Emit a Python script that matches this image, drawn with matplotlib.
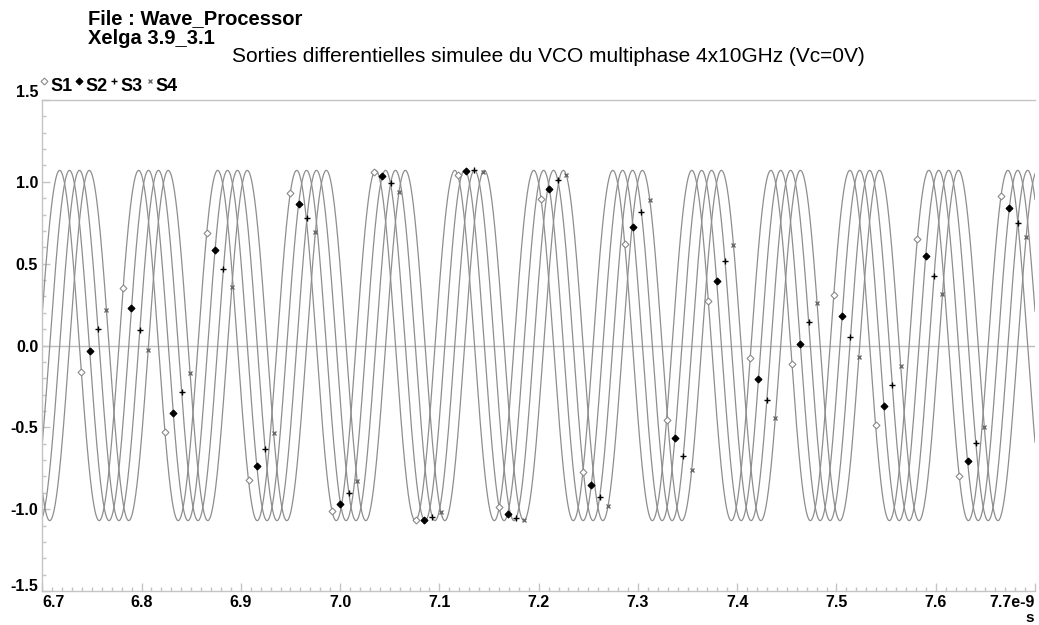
import numpy as np
import matplotlib
matplotlib.use("Agg")
import matplotlib.pyplot as plt
from matplotlib.ticker import FixedLocator, MultipleLocator

plt.rcParams['font.family'] = ['Liberation Sans', 'DejaVu Sans']

# wave data (time in ns)
t_start, t_stop = 6.7, 7.7
period_ns = 0.0796          # ~12.5 GHz
ampl = 1.07
series = ['S1', 'S2', 'S3', 'S4']
first_peak_ns = [6.7175, 6.7274, 6.7374, 6.7473]
marker_t0 = [6.7393, 6.7477, 6.7561, 6.7646]
marker_step = 0.04211
n_markers = [23, 23, 23, 23]

xticks = [6.7, 6.8, 6.9, 7.0, 7.1, 7.2, 7.3, 7.4, 7.5, 7.6, 7.7]
xlabels = ['6.7', '6.8', '6.9', '7.0', '7.1', '7.2', '7.3', '7.4', '7.5', '7.6', '7.7e-9']
yticks = [-1.5, -1.0, -0.5, 0.0, 0.5, 1.0, 1.5]
ylabels = ['-1.5', '-1.0', '-0.5', '0.0', '0.5', '1.0', '1.5']

mstyle = {
    'S1': dict(marker='D', ms=3.5, mfc='white', mec='#8a8a8a', mew=0.8),
    'S2': dict(marker='D', ms=3.5, mfc='black', mec='black', mew=0.8),
    'S3': dict(marker='+', ms=5, mec='black', mew=1.0),
    'S4': dict(marker='x', ms=3.5, mec='#6a6a6a', mew=1.0),
}

W, H = 1039, 625
fig = plt.figure(figsize=(W / 100, H / 100), dpi=100)
ax = fig.add_axes([42.3 / W, 1 - 591 / H, (1035 - 42.3) / W, (591 - 100) / H])

t = np.linspace(t_start, t_stop, 4000)

def wave(tt, tp):
    return ampl * np.cos(2 * np.pi * (tt - tp) / period_ns)

for name, tp, m0, nm in zip(series, first_peak_ns, marker_t0, n_markers):
    ax.plot(t, wave(t, tp), color='#8e8e8e', lw=0.9)
    tm = m0 + marker_step * np.arange(nm)
    ax.plot(tm, wave(tm, tp), ls='none', zorder=3, **mstyle[name])

ax.axhline(0, color='#bcbcbc', lw=1.0, zorder=0)

ax.set_xlim(t_start, t_stop)
ax.set_ylim(-1.5, 1.5)

for s in ['left', 'bottom', 'top']:
    ax.spines[s].set_color('#c4c4c4')
    ax.spines[s].set_linewidth(1.0)
ax.spines['right'].set_visible(False)

ax.xaxis.set_major_locator(FixedLocator(xticks))
ax.xaxis.set_minor_locator(MultipleLocator(0.01))
ax.yaxis.set_major_locator(FixedLocator(yticks))
ax.yaxis.set_minor_locator(MultipleLocator(0.1))
ax.set_xticklabels(xlabels, fontsize=11.5, fontweight='bold')
ax.set_yticklabels(ylabels, fontsize=11.5, fontweight='bold')
ax.tick_params(which='both', direction='in', color='#c4c4c4', width=1.0)
ax.tick_params(which='major', length=6)
ax.tick_params(which='minor', length=3)
ax.tick_params(axis='x', pad=3)
ax.tick_params(axis='y', pad=3)

xl = ax.get_xticklabels()
xl[0].set_ha('left')
xl[-1].set_ha('right')
yl = ax.get_yticklabels()
yl[0].set_va('baseline')
yl[-1].set_va('bottom')

# unit under the last x label
fig.text(1030 / W, 0.0, 's', fontsize=11, fontweight='bold', ha='center', va='bottom')

# titles
fig.text(88 / W, 1 - 24 / H, 'File : Wave_Processor', fontsize=14.5, fontweight='bold', va='baseline')
fig.text(88 / W, 1 - 44 / H, 'Xelga 3.9_3.1', fontsize=14.5, fontweight='bold', va='baseline')
fig.text(232 / W, 1 - 62 / H, 'Sorties differentielles simulee du VCO multiphase 4x10GHz (Vc=0V)',
         fontsize=15, va='baseline')

# legend row
leg_mx = [44, 79, 114, 150]
leg_tx = [50.7, 85, 120.7, 155.7]
for name, mx, tx in zip(series, leg_mx, leg_tx):
    ax.plot([mx / W], [1 - 81 / H], transform=fig.transFigure, clip_on=False,
            ls='none', **mstyle[name])
    fig.text(tx / W, 1 - 91 / H, name, fontsize=13, fontweight='bold', va='baseline')

fig.savefig('out.png', dpi=100)
